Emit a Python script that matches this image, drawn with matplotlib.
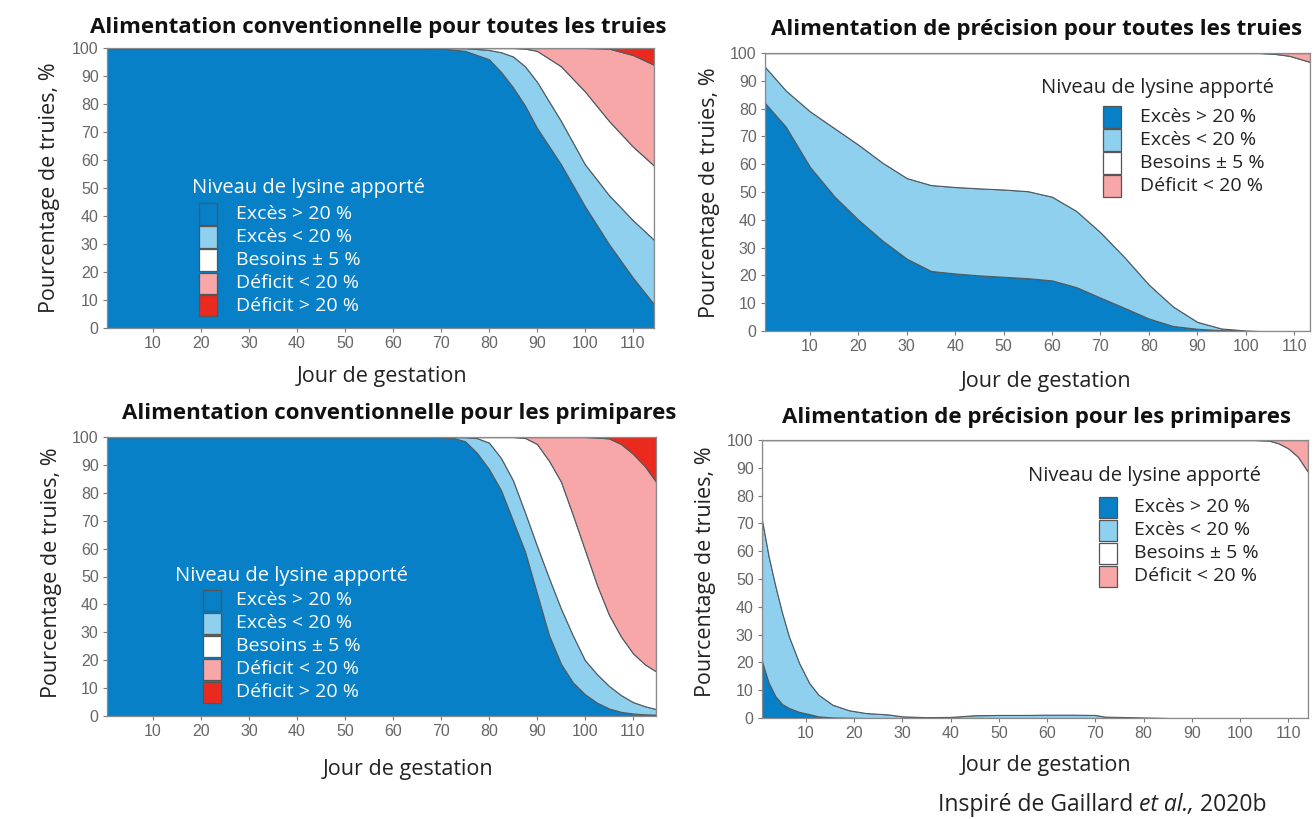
import numpy as np
import matplotlib
matplotlib.use("Agg")
import matplotlib.pyplot as plt
from matplotlib.patches import Rectangle

W, H = 1316, 819

# ---------------- data ----------------
levels = ["Excès > 20 %", "Excès < 20 %", "Besoins ± 5 %", "Déficit < 20 %", "Déficit > 20 %"]
level_colors = ["#0780c7", "#8fd0ee", "#ffffff", "#f7a7a7", "#ea2a1f"]
legend_title = "Niveau de lysine apporté"
x_ticks = [10, 20, 30, 40, 50, 60, 70, 80, 90, 100, 110]
y_ticks = [0, 10, 20, 30, 40, 50, 60, 70, 80, 90, 100]

# cumulative % of sows (upper edge of each level band)
# Conventional feeding, all sows
conv_all_days = [0.4, 60, 65, 70, 75, 80, 82.5, 85, 87.5, 90, 95, 100, 105, 110, 114.4]
conv_all_exc_hi = [100, 100, 100, 99.8, 99, 96, 91.5, 86, 79.5, 71.5, 58.5, 43.5, 30, 18, 8.5]
conv_all_exc_lo = [100, 100, 100, 100, 100, 99.3, 98.5, 97, 93.5, 88, 74, 58.5, 47.5, 38.5, 31.5]
conv_all_needs = [100, 100, 100, 100, 100, 100, 100, 100, 99.8, 99, 93.5, 84.5, 74, 64.8, 58]
conv_all_def_lo = [100, 100, 100, 100, 100, 100, 100, 100, 100, 100, 100, 100, 99.8, 97.5, 94]

# Precision feeding, all sows
prec_all_days = [0.7, 5, 10, 15, 20, 25, 30, 35, 40, 45, 50, 55, 60, 65, 70, 75, 80, 85, 90, 95, 100, 103, 106, 109, 113.3]
prec_all_exc_hi = [82, 73.5, 59, 48.5, 40, 32.5, 26, 21.6, 20.7, 20, 19.5, 19, 18.2, 15.8, 12, 8.3, 4.5, 1.8, 0.8, 0.3, 0.1, 0, 0, 0, 0]
prec_all_exc_lo = [95, 86.5, 79, 73, 67, 60.5, 55, 52.5, 51.8, 51.3, 50.9, 50.3, 48.3, 43.2, 35.5, 26.5, 16.7, 8.8, 3.3, 0.9, 0.2, 0, 0, 0, 0]
prec_all_needs = [100, 100, 100, 100, 100, 100, 100, 100, 100, 100, 100, 100, 100, 100, 100, 100, 100, 100, 100, 100, 100, 100, 99.7, 99, 96.8]
prec_all_def_lo = [100] * 25

# Conventional feeding, primiparous sows
conv_prim_days = [0.4, 65, 70, 72.5, 75, 77.5, 80, 82.5, 85, 87.5, 90, 92.5, 95, 97.5, 100, 102.5, 105, 107.5, 110, 112.5, 114.8]
conv_prim_exc_hi = [100, 100, 100, 99.7, 98.5, 94.3, 88.5, 81, 70, 59, 44, 29, 18.7, 12, 7.8, 4.8, 2.7, 1.5, 0.9, 0.6, 0.5]
conv_prim_exc_lo = [100, 100, 100, 100, 100, 99.6, 98, 92.5, 84.5, 73, 61, 49.5, 38.5, 28.8, 20, 15, 10.8, 7.5, 5, 3.5, 2.5]
conv_prim_needs = [100, 100, 100, 100, 100, 100, 100, 100, 100, 99.7, 97.5, 91.5, 84, 72, 59.5, 47, 36.3, 28.5, 22.5, 18.5, 16]
conv_prim_def_lo = [100, 100, 100, 100, 100, 100, 100, 100, 100, 100, 100, 100, 100, 100, 100, 99.8, 99.5, 97.5, 94, 89.5, 84]

# Precision feeding, primiparous sows
prec_prim_days = [0.9, 2.3, 3.7, 5.1, 6.5, 8.6, 10.7, 12.6, 15.5, 18.9, 22.4, 27, 30, 35, 40, 45, 50, 55, 60, 65, 70, 72, 80, 85.6, 95, 103, 106, 108, 110, 112, 114.1]
prec_prim_exc_hi = [20.4, 12.6, 7.8, 5, 3.6, 2.2, 1.4, 0.6, 0.2, 0.1, 0, 0, 0, 0, 0, 0, 0, 0, 0, 0, 0, 0, 0, 0, 0, 0, 0, 0, 0, 0, 0]
prec_prim_exc_lo = [71.3, 58, 47.3, 37.7, 29.3, 19.8, 12.6, 8.4, 4.8, 2.8, 1.8, 1.3, 0.6, 0.3, 0.4, 1.0, 1.1, 1.1, 1.2, 1.2, 1.1, 0.5, 0.2, 0, 0, 0, 0, 0, 0, 0, 0]
prec_prim_needs = [100] * 26 + [99.8, 98.8, 97, 94, 88.5]
prec_prim_def_lo = [100] * 31

panels = [
    dict(title="Alimentation conventionnelle pour toutes les truies",
         days=conv_all_days, cum=[conv_all_exc_hi, conv_all_exc_lo, conv_all_needs, conv_all_def_lo],
         box=(107, 48, 654, 328), xlim=(0.4, 114.4), nlev=5, dark=True,
         title_xy=(378, 27), xlab_xy=(382, 377), ylab_xy=(50, 188),
         leg_title_xy=(192, 188), leg_box_x=199, leg_text_x=236, leg_rows=[214, 237, 260, 283, 306]),
    dict(title="Alimentation de précision pour toutes les truies",
         days=prec_all_days, cum=[prec_all_exc_hi, prec_all_exc_lo, prec_all_needs, prec_all_def_lo],
         box=(765, 53, 1310, 331), xlim=(0.7, 113.3), nlev=4, dark=False,
         title_xy=(1037, 30), xlab_xy=(1046, 382), ylab_xy=(710, 193),
         leg_title_xy=(1041, 88), leg_box_x=1103, leg_text_x=1140, leg_rows=[117, 140, 163, 186]),
    dict(title="Alimentation conventionnelle pour les primipares",
         days=conv_prim_days, cum=[conv_prim_exc_hi, conv_prim_exc_lo, conv_prim_needs, conv_prim_def_lo],
         box=(107, 437, 656, 716), xlim=(0.4, 114.8), nlev=5, dark=True,
         title_xy=(399, 413), xlab_xy=(408, 770), ylab_xy=(52, 573),
         leg_title_xy=(175, 576), leg_box_x=203, leg_text_x=236, leg_rows=[600, 623, 646, 669, 692]),
    dict(title="Alimentation de précision pour les primipares",
         days=prec_prim_days, cum=[prec_prim_exc_hi, prec_prim_exc_lo, prec_prim_needs, prec_prim_def_lo],
         box=(762, 440, 1308, 718), xlim=(0.9, 114.1), nlev=4, dark=False,
         title_xy=(1037, 417), xlab_xy=(1046, 765), ylab_xy=(706, 572),
         leg_title_xy=(1028, 476), leg_box_x=1099, leg_text_x=1134, leg_rows=[507, 530, 553, 576]),
]

# ---------------- drawing ----------------
plt.rcParams["font.family"] = ["Open Sans", "DejaVu Sans"]
fig = plt.figure(figsize=(W / 100, H / 100), dpi=100)
fig.patch.set_facecolor("white")


def fx(px):
    return px / W


def fy(py):
    return 1 - py / H


for p in panels:
    x0, y0, x1, y1 = p["box"]
    ax = fig.add_axes([fx(x0), fy(y1), fx(x1) - fx(x0), fy(y0) - fy(y1)])
    cum = np.vstack([np.zeros(len(p["days"]))] + [np.asarray(c, float) for c in p["cum"]] + [np.full(len(p["days"]), 100.0)])
    layers = np.diff(cum, axis=0)
    ax.stackplot(p["days"], *layers, colors=level_colors, edgecolor="#4f5a60", linewidth=0.8)
    ax.set_xlim(*p["xlim"])
    ax.set_ylim(0, 100)
    ax.set_xticks(x_ticks)
    ax.set_yticks(y_ticks)
    ax.tick_params(direction="out", length=3, width=0.8, color="#7a7a7a", labelcolor="#666666",
                   labelsize=11.5, pad=3)
    for lab in ax.get_xticklabels() + ax.get_yticklabels():
        lab.set_fontfamily("Liberation Sans")
    for s in ax.spines.values():
        s.set_color("#8a8a8a")
        s.set_linewidth(0.9)

    fig.text(fx(p["title_xy"][0]), fy(p["title_xy"][1]), p["title"], ha="center", va="center",
             fontsize=16, fontweight="bold", color="#111111")
    fig.text(fx(p["xlab_xy"][0]), fy(p["xlab_xy"][1]), "Jour de gestation", ha="center", va="center",
             fontsize=15.5, color="#222222")
    fig.text(fx(p["ylab_xy"][0]), fy(p["ylab_xy"][1]), "Pourcentage de truies, %", ha="center", va="center",
             rotation=90, fontsize=15.5, color="#222222")

    tcol = "white" if p["dark"] else "#222222"
    fig.text(fx(p["leg_title_xy"][0]), fy(p["leg_title_xy"][1]), legend_title, ha="left", va="center",
             fontsize=14.5, color=tcol)
    bw, bh = 18, 21
    for i in range(p["nlev"]):
        ry = p["leg_rows"][i]
        fig.add_artist(Rectangle((fx(p["leg_box_x"]), fy(ry + bh / 2)), bw / W, bh / H,
                                 transform=fig.transFigure, facecolor=level_colors[i],
                                 edgecolor="#555555", linewidth=0.9))
        fig.text(fx(p["leg_text_x"]), fy(ry), levels[i], ha="left", va="center", fontsize=14, color=tcol)

# footer with italic "et al.,"
fig.canvas.draw()
renderer = fig.canvas.get_renderer()
parts = [("Inspiré de Gaillard ", "normal"), ("et al.,", "italic"), (" 2020b", "normal")]
xpos = 938
for txt, style in parts:
    t = fig.text(fx(xpos), fy(805), txt, ha="left", va="center", fontsize=16.5, style=style, color="#222222")
    bb = t.get_window_extent(renderer=renderer)
    xpos += bb.width

fig.savefig("out.png", dpi=100)
